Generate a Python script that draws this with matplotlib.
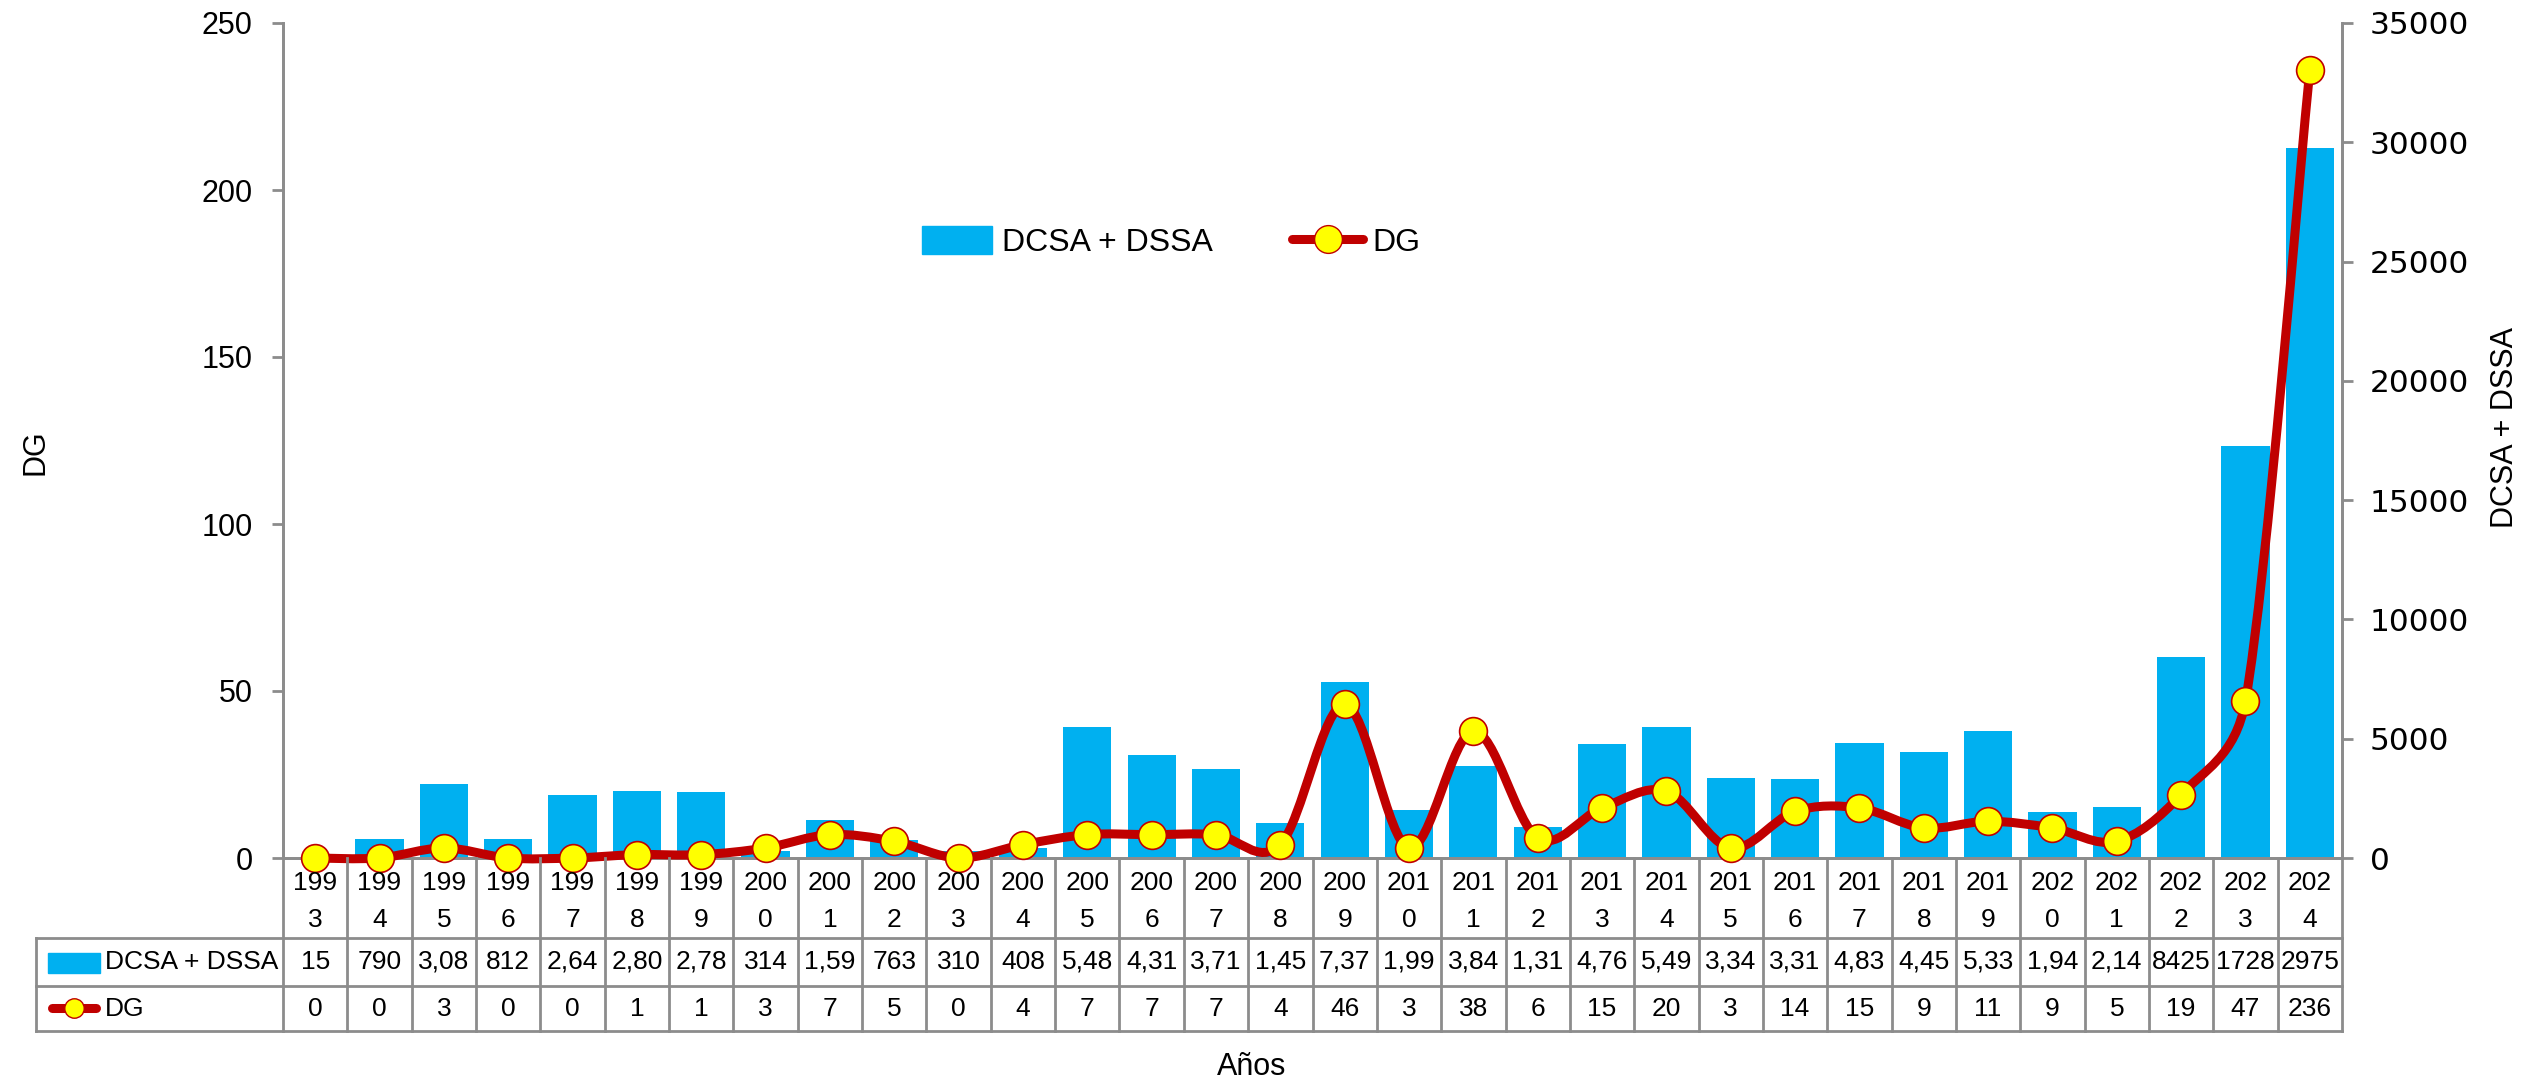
import matplotlib
matplotlib.use("Agg")
import matplotlib.pyplot as plt
from matplotlib.path import Path
from matplotlib.patches import PathPatch, Rectangle
from matplotlib.lines import Line2D
import numpy as np

# data
years = list(range(1993, 2025))
dcsa = [15, 790, 3083, 812, 2645, 2805, 2785, 314, 1595, 763, 310, 408,
        5485, 4315, 3715, 1455, 7375, 1995, 3845, 1315, 4765, 5495, 3345,
        3315, 4835, 4455, 5335, 1945, 2145, 8425, 17280, 29750]
dcsa_labels = ["15", "790", "3,08", "812", "2,64", "2,80", "2,78", "314",
               "1,59", "763", "310", "408", "5,48", "4,31", "3,71", "1,45",
               "7,37", "1,99", "3,84", "1,31", "4,76", "5,49", "3,34", "3,31",
               "4,83", "4,45", "5,33", "1,94", "2,14", "8425", "1728", "2975"]
dg = [0, 0, 3, 0, 0, 1, 1, 3, 7, 5, 0, 4, 7, 7, 7, 4, 46, 3, 38, 6, 15, 20,
      3, 14, 15, 9, 11, 9, 5, 19, 47, 236]

BLUE = "#00B0F0"
RED = "#C00000"
YEL = "#FFFF00"
GRAY = "#8C8C8C"
NARROW = ["Liberation Sans Narrow", "Liberation Sans", "DejaVu Sans"]
TFS = 19  # table font size

W, H = 2534, 1081
fig = plt.figure(figsize=(W / 100, H / 100), dpi=100)

# plot area in pixels
L, R, T, B = 283, 2342, 23, 858
ax = fig.add_axes([L / W, 1 - B / H, (R - L) / W, (B - T) / H])
ax2 = ax.twinx()

n = len(years)
x = np.arange(n)

# bars on right axis
ax.bar(x, dcsa, width=0.75, color=BLUE, zorder=2, label="DCSA + DSSA")
ax.set_xlim(-0.5, n - 0.5)
ax.set_ylim(0, 35000)
ax.set_yticks(range(0, 35001, 5000))
ax.yaxis.tick_right()
ax.tick_params(axis="y", direction="out", length=8, width=2, color=GRAY,
               pad=12, labelsize=22.5, labelfontfamily="DejaVu Sans")
ax.set_xticks([])

ax2.set_ylim(0, 250)

# smoothed DG line: bezier through the points (Excel style),
# handles = 1/6 of neighbour chord, capped at half the segment
sx = (R - L) / n
sy = (B - T) / 250.0
P = np.column_stack([x * sx, np.array(dg) * sy]).astype(float)
E = np.vstack([P[0], P, P[-1]])
verts = [tuple(P[0])]
codes = [Path.MOVETO]
for i in range(n - 1):
    p0, p1, p2, p3 = E[i], E[i + 1], E[i + 2], E[i + 3]
    seg = np.hypot(*(p2 - p1))
    h1 = (p2 - p0) / 6
    h2 = (p3 - p1) / 6
    l1, l2 = np.hypot(*h1), np.hypot(*h2)
    if l1 > seg / 2:
        h1 = h1 * (seg / 2) / l1
    if l2 > seg / 2:
        h2 = h2 * (seg / 2) / l2
    verts += [tuple(p1 + h1), tuple(p2 - h2), tuple(p2)]
    codes += [Path.CURVE4] * 3
verts = [(vx / sx, vy / sy) for vx, vy in verts]
ax2.add_patch(PathPatch(Path(verts, codes), facecolor="none", edgecolor=RED,
                        lw=6.5, capstyle="round", joinstyle="round",
                        zorder=3, clip_on=False))
ax2.plot(x, dg, ls="none", marker="o", ms=20, mfc=YEL, mec=RED, mew=1.2,
         zorder=4, clip_on=False)
ax2.set_yticks(range(0, 251, 50))
ax2.yaxis.tick_left()
ax2.tick_params(axis="y", direction="out", length=8, width=2, color=GRAY,
                pad=14, labelsize=22, labelfontfamily="Liberation Sans")

for a in (ax, ax2):
    a.spines["top"].set_visible(False)
    for s in ("left", "right", "bottom"):
        a.spines[s].set_color(GRAY)
        a.spines[s].set_linewidth(2)

# legend
h_bar = Rectangle((0, 0), 1, 1, color=BLUE)
h_line = Line2D([], [], color=RED, lw=6.5, marker="o", ms=20, mfc=YEL,
                mec=RED, solid_capstyle="round")
fig.legend([h_bar, h_line], ["DCSA + DSSA", "DG"], loc="center",
           bbox_to_anchor=(1171 / W, 1 - 242 / H), ncol=2, frameon=False,
           prop={"family": "Liberation Sans", "size": 23},
           handlelength=2.2, handleheight=1.0, columnspacing=2.5,
           handletextpad=0.3)

# data table under the axis
r0, r1, r2, r3 = B, 938, 986, 1031
tax = fig.add_axes([L / W, 1 - r3 / H, (R - L) / W, (r3 - r0) / H])
tax.set_xlim(-0.5, n - 0.5)
tax.set_ylim(r3, r0)
tax.axis("off")


def px(p):
    return -0.5 + (p - L) / ((R - L) / n)


xl = px(36)
lk = dict(color=GRAY, lw=2, clip_on=False)
for i in range(n + 1):
    tax.plot([i - 0.5, i - 0.5], [r0, r3], **lk)
for yy in (r1, r2, r3):
    tax.plot([xl, n - 0.5], [yy, yy], **lk)
tax.plot([xl, xl], [r1, r3], **lk)

for i, yv in enumerate(years):
    s = str(yv)
    tax.text(i, 883, s[:3], ha="center", va="center", fontsize=TFS,
             family=NARROW)
    tax.text(i, 920, s[3], ha="center", va="center", fontsize=TFS,
             family=NARROW)
    tax.text(i, (r1 + r2) / 2, dcsa_labels[i], ha="center", va="center",
             fontsize=TFS, family=NARROW)
    tax.text(i, (r2 + r3) / 2, str(dg[i]), ha="center", va="center",
             fontsize=TFS, family=NARROW)

# row keys
tax.add_patch(Rectangle((px(48), 953), px(100) - px(48), 20, color=BLUE,
                        clip_on=False))
tax.text(px(105), (r1 + r2) / 2, "DCSA + DSSA", ha="left", va="center",
         fontsize=TFS, family=NARROW)
tax.plot([px(52), px(96)], [1008, 1008], color=RED, lw=6.5,
         solid_capstyle="round", clip_on=False)
tax.plot([px(74)], [1008], marker="o", ms=14, mfc=YEL, mec=RED, mew=1,
         clip_on=False)
tax.text(px(105), (r2 + r3) / 2, "DG", ha="left", va="center", fontsize=TFS,
         family=NARROW)

# axis titles
fig.text(36 / W, 1 - 452 / H, "DG", rotation=90, ha="center", va="center",
         fontsize=22, family="Liberation Sans")
fig.text(2505 / W, 1 - 428 / H, "DCSA + DSSA", rotation=90, ha="center",
         va="center", fontsize=22, family=NARROW)
fig.text(1252 / W, 1 - 1067 / H, "Años", ha="center", va="center",
         fontsize=22, family=NARROW)

fig.savefig("out.png", dpi=100)
